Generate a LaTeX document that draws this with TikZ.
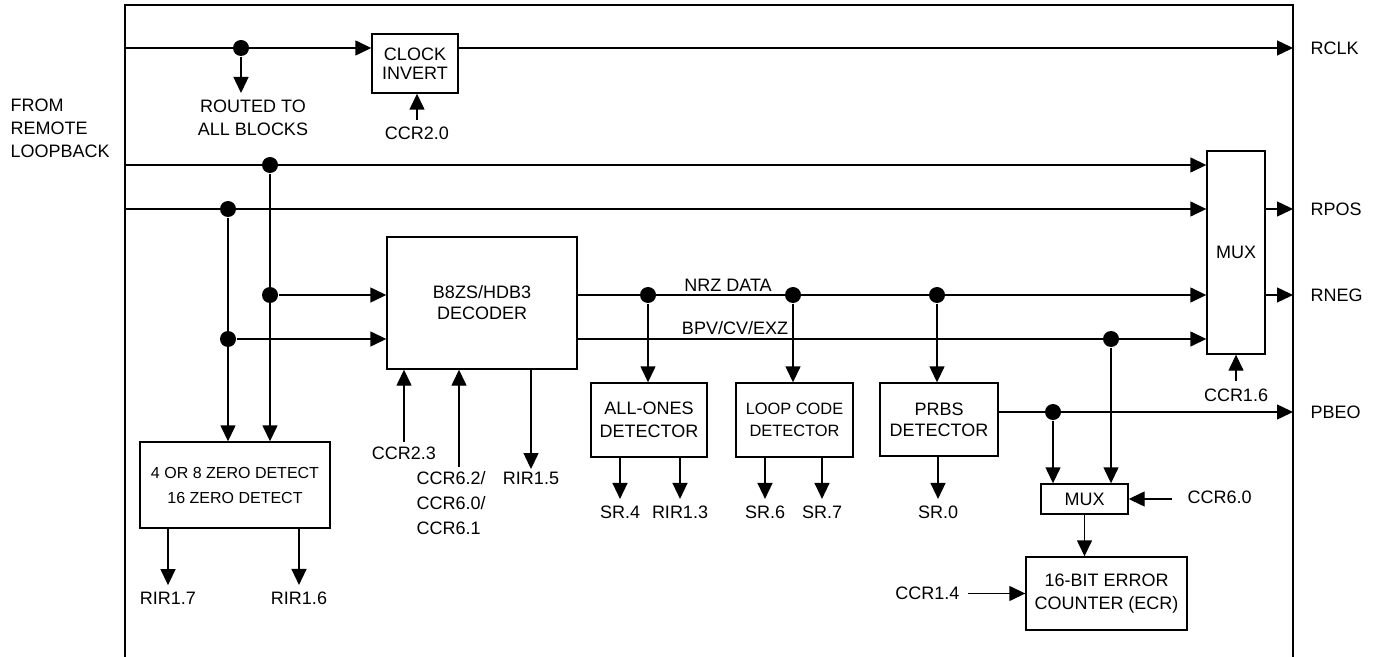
\documentclass[tikz,border=0pt]{standalone}
\usepackage{fontspec}
\setmainfont{Liberation Sans}
\usetikzlibrary{arrows.meta,positioning}

\begin{document}
\begin{tikzpicture}[
	x=0.5pt, y=-0.5pt,
	line width=0.7pt,
	line join=miter,
	>={Triangle[length=8pt,width=7.5pt]},
	font=\fontsize{9}{11.5}\selectfont,
	blk/.style={draw, inner sep=0pt, align=center},
	lbl/.style={inner sep=0pt, align=center},
	dot/.style={circle, fill, inner sep=0pt, minimum size=8pt}
	]
	
	% Khung
	\useasboundingbox (0,0) rectangle (1385,657);
	\coordinate (ftl) at (125,5);
	\coordinate (ftr) at (1293,5);
	\coordinate (fbl) at (125,657);
	\coordinate (fbr) at (1293,657);
	\draw (fbl) -- (ftl) -- (ftr) -- (fbr);
	
	% Khoi
	\node[blk, minimum width=43pt, minimum height=29.5pt, font=\fontsize{9}{9.5}\selectfont] (clk) at (415,63.5) {CLOCK\\INVERT};
	\node[blk, minimum width=29pt, minimum height=101.5pt] (mux) at (1236,252.5) {MUX};
	\node[blk, minimum width=95pt, minimum height=66pt, font=\fontsize{9}{10.5}\selectfont] (dec) at (482,303) {B8ZS/HDB3\\DECODER};
	\node[blk, minimum width=58pt, minimum height=37pt] (ones) at (649,420) {ALL-ONES\\DETECTOR};
	\node[blk, minimum width=58.5pt, minimum height=37pt, font=\fontsize{8.2}{11}\selectfont] (loop) at (794.5,420) {LOOP CODE\\DETECTOR};
	\node[blk, minimum width=59pt, minimum height=36.5pt, font=\fontsize{9}{10.5}\selectfont] (prbs) at (939,419.5) {PRBS\\DETECTOR};
	\node[blk, minimum width=95pt, minimum height=43pt, font=\fontsize{8}{12.5}\selectfont] (zero) at (235,485) {4 OR 8 ZERO DETECT\\16 ZERO DETECT};
	\node[blk, minimum width=43.5pt, minimum height=15pt] (smux) at (1084.5,499) {MUX};
	\node[blk, minimum width=80.5pt, minimum height=36.5pt] (ecr) at (1106.5,593.5) {16-BIT ERROR\\COUNTER (ECR)};
	
	% Diem noi
	\node[dot] (dclk) at (241,48) {};
	\node[dot] (da) at (270,165) {};
	\node[dot] (db) at (228,209) {};
	\node[dot] (dc) at (270,295) {};
	\node[dot] (dd) at (228,339) {};
	\node[dot] (dn1) at (648,295) {};
	\node[dot] (dn2) at (793,295) {};
	\node[dot] (dn3) at (937,295) {};
	\node[dot] (dbpv) at (1111,339) {};
	\node[dot] (dpb) at (1053,412) {};
	
	% Nhan
	\node[lbl, align=left, anchor=west] (loopback) at (10,128) {FROM\\REMOTE\\LOOPBACK};
	\node[lbl] (routed) at (253,118) {ROUTED TO\\ALL BLOCKS};
	\node[lbl] (ccr20) at (417,133) {CCR2.0};
	\node[lbl, anchor=west] (rclk) at (1310,48) {RCLK};
	\node[lbl, anchor=west] (rpos) at (1310,209) {RPOS};
	\node[lbl, anchor=west] (rneg) at (1310,295) {RNEG};
	\node[lbl, anchor=west] (pbeo) at (1310,412) {PBEO};
	\node[lbl] (nrz) at (728,285) {NRZ DATA};
	\node[lbl] (bpv) at (735,328) {BPV/CV/EXZ};
	\node[lbl] (ccr23) at (404,453) {CCR2.3};
	\node[lbl, align=left, anchor=north west, font=\fontsize{9}{12.5}\selectfont] (ccr6) at (416,471) {CCR6.2/\\CCR6.0/\\CCR6.1};
	\node[lbl] (rir15) at (531,478) {RIR1.5};
	\node[lbl] (sr4) at (620,512) {SR.4};
	\node[lbl] (rir13) at (680,512) {RIR1.3};
	\node[lbl] (sr6) at (765,512) {SR.6};
	\node[lbl] (sr7) at (822,512) {SR.7};
	\node[lbl] (sr0) at (938,512) {SR.0};
	\node[lbl] (ccr16) at (1236,395) {CCR1.6};
	\node[lbl, anchor=west] (ccr60) at (1187,497) {CCR6.0};
	\node[lbl, anchor=east] (ccr14) at (960,593) {CCR1.4};
	\node[lbl] (rir17) at (168,598) {RIR1.7};
	\node[lbl] (rir16) at (299,598) {RIR1.6};
	
	% Duong clock
	\draw[->] (ftl |- dclk) -- (dclk -| clk.west);
	\draw[->] (dclk) -- ++(0,45);
	\draw[->, shorten <=3pt] (ccr20.north) -- (ccr20.north |- clk.south);
	\draw[->] (dclk -| clk.east) -- (ftr |- dclk);
	
	% Duong loopback
	\draw[->] (ftl |- da) -- (da -| mux.west);
	\draw[->] (ftl |- db) -- (db -| mux.west);
	\draw[->] (da) -- (da |- zero.north);
	\draw[->] (db) -- (db |- zero.north);
	\draw[->] (dc) -- (dc -| dec.west);
	\draw[->] (dd) -- (dd -| dec.west);
	
	% Dau ra decoder
	\draw[->] (dn1 -| dec.east) -- (dn1 -| mux.west);
	\draw[->] (dbpv -| dec.east) -- (dbpv -| mux.west);
	\draw[->] (dn1) -- (dn1 |- ones.north);
	\draw[->] (dn2) -- (dn2 |- loop.north);
	\draw[->] (dn3) -- (dn3 |- prbs.north);
	\draw[->, shorten <=2pt] (ccr23.north) -- (ccr23.north |- dec.south);
	\draw[->, shorten <=2pt] ([xshift=21.5pt]ccr6.north west) -- ([xshift=21.5pt]ccr6.north west |- dec.south);
	\draw[->, shorten >=1pt] (dec.south -| rir15) -- (rir15.north);
	
	% Dau ra MUX
	\draw[->] (mux.east |- rpos) -- (ftr |- rpos);
	\draw[->] (mux.east |- rneg) -- (ftr |- rneg);
	\draw[->, shorten <=3.5pt] (ccr16.north) -- (ccr16.north |- mux.south);
	
	% Bo dem loi
	\draw[->] (prbs.east |- dpb) -- (ftr |- dpb);
	\draw[->] (dpb) -- (dpb |- smux.north);
	\draw[->] (dbpv) -- (dbpv |- smux.north);
	\draw[->] ([xshift=-7.5pt]ccr60.west |- smux.east) -- (smux.east);
	\draw[->] (smux.south) -- (smux.south |- ecr.north);
	\draw[->] ([xshift=4pt]ccr14.east |- ecr.west) -- (ecr.west);
	
	% Trang thai
	\foreach \b/\l in {ones/sr4, ones/rir13, loop/sr6, loop/sr7, prbs/sr0, zero/rir17, zero/rir16}
	{
		\draw[->, shorten >=3pt] (\b.south -| \l) -- (\l.north);
	}
	
\end{tikzpicture}
\end{document}
